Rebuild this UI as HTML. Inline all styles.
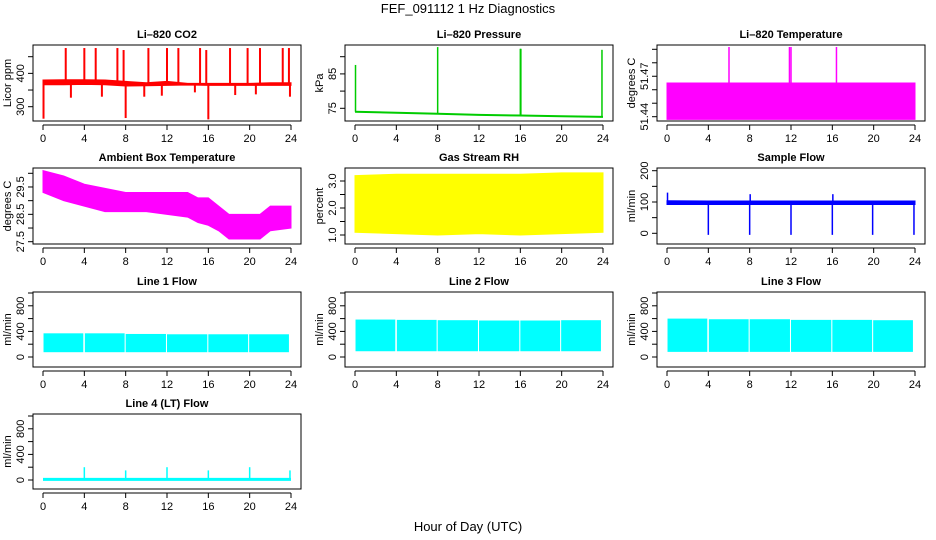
<!DOCTYPE html>
<html><head><meta charset="utf-8"><style>
html,body{margin:0;padding:0;background:#fff;}
svg{display:block;font-family:"Liberation Sans",Arial,sans-serif;}
</style></head><body>
<svg id="fig" width="936" height="540" viewBox="0 0 936 540" xmlns="http://www.w3.org/2000/svg">
<rect width="936" height="540" fill="#fff"/>
<text x="468" y="13" text-anchor="middle" font-size="13">FEF_091112  1 Hz Diagnostics</text>
<text x="468" y="531" text-anchor="middle" font-size="13">Hour of Day (UTC)</text>
</svg>
<script>
// ---- data ----
const xTicks = [0,4,8,12,16,20,24];

const co2Hours = [0,2,4,6,8,10,12,14,16,18,20,22,24];
const co2Hi = [380,381,381,380,376,372,376,370,370,370,370,372,372];
const co2Lo = [366,366,367,366,362,363,364,365,364,364,364,364,364];
const co2SpikeHours = [2.2,4.0,5.1,7.2,7.8,10.2,12.0,13.1,15.2,15.8,18.1,19.8,21.0,23.2,23.8,0.05,8.0,16.0,2.7,5.7,11.5,9.8,14.7,18.6,20.6,23.9];
const co2SpikeVals = [476,476,476,476,470,476,476,476,476,470,476,476,476,476,476,264,266,262,327,330,333,330,343,335,337,330];

const presHours = [0,4,8,12,16,20,24];
const presVals = [74.0,73.7,73.4,73.1,72.9,72.7,72.5];
const presSpikeHours = [0.05,8.0,16.0,16.05,23.9];
const presSpikeVals = [87.6,92.8,92.3,92.3,92.0];

const tempHours = [0,24];
const tempHi = [51.465,51.465];
const tempLo = [51.438,51.438];
const tempSpikeHours = [6.0,11.85,12.0,16.4];
const tempSpikeVals = [51.4917,51.4917,51.4917,51.4917];

const ambHours = [0,2,4,6,8,10,12,14,15,16,17,18,20,21,22,24];
const ambHi = [30.1,29.9,29.6,29.45,29.3,29.3,29.3,29.3,29.1,29.1,28.8,28.5,28.5,28.5,28.8,28.8];
const ambLo = [29.3,29.0,28.8,28.6,28.6,28.6,28.5,28.4,28.2,28.1,27.9,27.6,27.6,27.6,27.9,28.0];

const rhHours = [0,4,8,12,16,20,24];
const rhHi = [3.2,3.25,3.25,3.25,3.25,3.3,3.3];
const rhLo = [1.1,1.05,1.0,1.05,1.0,1.05,1.1];

const sfHours = [0,4,8,12,16,20,24];
const sfHi = [104,103,103,103,103,103,103];
const sfLo = [92,92,92,92,92,92,92];
const sfSpikeHours = [0.05,4.0,8.0,8.05,12.0,16.0,16.05,19.9,23.9];
const sfSpikeVals = [130,-5,-5,125,-5,-5,125,-5,-5];

const l1Start = [0.05,4.05,8.0,12.0,16.0,19.95];
const l1End = [3.9,7.9,11.9,15.9,19.85,23.8];
const l1Hi = [370,370,360,355,355,355];
const l1Lo = [75,75,75,75,75,75];

const l2Start = [0.05,4.05,8.0,12.0,16.0,19.95];
const l2End = [3.9,7.9,11.9,15.9,19.85,23.8];
const l2Hi = [585,580,575,570,570,575];
const l2Lo = [90,90,90,90,90,90];

const l3Start = [0.05,4.05,8.0,12.0,16.0,19.95];
const l3End = [3.9,7.9,11.9,15.9,19.85,23.8];
const l3Hi = [600,590,590,580,580,575];
const l3Lo = [80,80,80,80,80,80];

const l4Hours = [0,24];
const l4Vals = [10,10];
const l4SpikeHours = [4.0,8.0,12.0,16.0,20.0,23.9];
const l4SpikeVals = [200,150,200,150,200,150];

// ---- layout ----
const NS='http://www.w3.org/2000/svg';
const svg=document.getElementById('fig');
function mk(tag,attrs,parent){const e=document.createElementNS(NS,tag);for(const k in attrs)e.setAttribute(k,attrs[k]);(parent||svg).appendChild(e);return e;}
const cols=[{l:33,r:301,x0:43,x24:291},{l:345,r:613,x0:355,x24:603},{l:657,r:925,x0:667,x24:915}];

function makePanel(name,col,top,bot,title,ylab,v0,p0,v1,p1,ticks,labels){
  const c=cols[col];
  const g=mk('g',{});
  
  
  const X=h=>c.x0+h*(c.x24-c.x0)/24;
  const Y=v=>p0+(v-v0)*(p1-p0)/(v1-v0);
  const t=mk('text',{x:(c.l+c.r)/2,y:top-7,'text-anchor':'middle','font-size':'11','font-weight':'bold'},g);
  t.textContent=title;
  
  
  const yl=mk('text',{x:0,y:0,'text-anchor':'middle','font-size':'11',transform:`translate(${c.l-22},${(top+bot)/2}) rotate(-90)`},g);
  yl.textContent=ylab;
  
  
  const plot=mk('g',{},g);
  
  
  const box=mk('rect',{x:c.l,y:top,width:c.r-c.l,height:bot-top,fill:'none',stroke:'#000','stroke-width':'1'},g);
  
  
  const ya=mk('g',{},g);
  
  
  mk('line',{x1:c.l,x2:c.l,y1:Y(ticks[0]),y2:Y(ticks[ticks.length-1]),stroke:'#000'},ya);
  ticks.forEach(v=>{mk('line',{x1:c.l-5,x2:c.l,y1:Y(v),y2:Y(v),stroke:'#000'},ya);});
  labels.forEach(s=>{const tt=mk('text',{x:0,y:0,'text-anchor':'middle','font-size':'11',transform:`translate(${c.l-9},${Y(parseFloat(s))}) rotate(-90)`},ya);tt.textContent=String(s);});
  const xa=mk('g',{},g);
  
  
  mk('line',{x1:X(0),x2:X(24),y1:bot+4,y2:bot+4,stroke:'#000'},xa);
  xTicks.forEach(h=>{mk('line',{x1:X(h),x2:X(h),y1:bot+4,y2:bot+9,stroke:'#000'},xa);
    const tt=mk('text',{x:X(h),y:bot+21,'text-anchor':'middle','font-size':'11'},xa);tt.textContent=String(h);});
  return {X,Y,plot};
}
function interp(hs,vs,h){for(let i=0;i<hs.length-1;i++){if(h<=hs[i+1]){const f=(h-hs[i])/(hs[i+1]-hs[i]);return vs[i]+f*(vs[i+1]-vs[i]);}}return vs[vs.length-1];}
function band(P,hs,hi,lo,color){
  let d='M'+hs.map((h,i)=>P.X(h)+','+P.Y(hi[i])).join(' L');
  for(let i=hs.length-1;i>=0;i--)d+=' L'+P.X(hs[i])+','+P.Y(lo[i]);
  const p=mk('path',{d:d+' Z',fill:color,stroke:color,'stroke-width':'1'},P.plot);
  
  
}
function line(P,hs,vs,color,w){
  const p=mk('polyline',{points:hs.map((h,i)=>P.X(h)+','+P.Y(vs[i])).join(' '),fill:'none',stroke:color,'stroke-width':w},P.plot);
  
  
}
function spikes(P,sh,sv,bh,bv,color,w){
  sh.forEach((h,i)=>{const b=interp(bh,bv,h);
    const l=mk('line',{x1:P.X(h),x2:P.X(h),y1:P.Y(b),y2:P.Y(sv[i]),stroke:color,'stroke-width':w},P.plot);
    
    });
}
function blocks(P,st,en,hi,lo,color){
  st.forEach((s,i)=>{const r=mk('rect',{x:P.X(s),y:P.Y(hi[i]),width:P.X(en[i])-P.X(s),height:P.Y(lo[i])-P.Y(hi[i]),fill:color},P.plot);
    
    });
}

P=makePanel('co2',0,45,121,'Li–820 CO2','Licor ppm',300,106.7,450,56.7,[300,350,400,450],['300','400']);
const co2Mid=co2Hi.map((v,i)=>(v+co2Lo[i])/2);
band(P,co2Hours,co2Hi,co2Lo,'#ff0000');
spikes(P,co2SpikeHours,co2SpikeVals,co2Hours,co2Mid,'#ff0000',2);

P=makePanel('pressure',1,45,121,'Li–820 Pressure','kPa',75,108.3,90,56.7,[75,80,85,90],['75','85']);
line(P,presHours,presVals,'#00cc00',2);
spikes(P,presSpikeHours,presSpikeVals,presHours,presVals,'#00cc00',1.5);

P=makePanel('li820-temp',2,45,121,'Li–820 Temperature','degrees C',51.44,116.7,51.49,49.3,[51.44,51.45,51.46,51.47,51.48,51.49],['51.44','51.47']);
band(P,tempHours,tempHi,tempLo,'#ff00ff');
spikes(P,tempSpikeHours,tempSpikeVals,tempHours,tempHi,'#ff00ff',1.5);

P=makePanel('ambient-temp',0,168,244,'Ambient Box Temperature','degrees C',27.5,241.7,30,173.3,[27.5,28,28.5,29,29.5,30],['27.5','28.5','29.5']);
band(P,ambHours,ambHi,ambLo,'#ff00ff');

P=makePanel('gas-rh',1,168,244,'Gas Stream RH','percent',1.0,235,3.0,181,[1,1.5,2,2.5,3],['1.0','2.0','3.0']);
band(P,rhHours,rhHi,rhLo,'#ffff00');

P=makePanel('sample-flow',2,168,244,'Sample Flow','ml/min',0,233.3,200,170.7,[0,50,100,150,200],['0','100','200']);
band(P,sfHours,sfHi,sfLo,'#0000ff');
const sfMid=sfHi.map((v,i)=>(v+sfLo[i])/2);
spikes(P,sfSpikeHours,sfSpikeVals,sfHours,sfMid,'#0000ff',1.5);

const lt=[0,200,400,600,800,1000], ll=['0','400','800'];
P=makePanel('line1-flow',0,292,367,'Line 1 Flow','ml/min',0,357,1000,293,lt,ll);
blocks(P,l1Start,l1End,l1Hi,l1Lo,'#00ffff');
P=makePanel('line2-flow',1,292,367,'Line 2 Flow','ml/min',0,357,1000,293,lt,ll);
blocks(P,l2Start,l2End,l2Hi,l2Lo,'#00ffff');
P=makePanel('line3-flow',2,292,367,'Line 3 Flow','ml/min',0,357,1000,293,lt,ll);
blocks(P,l3Start,l3End,l3Hi,l3Lo,'#00ffff');

P=makePanel('line4-flow',0,414,489,'Line 4 (LT) Flow','ml/min',0,480,1000,416,lt,ll);
line(P,l4Hours,l4Vals,'#00ffff',3);
spikes(P,l4SpikeHours,l4SpikeVals,l4Hours,l4Vals,'#00ffff',1.5);
</script>
</body></html>
